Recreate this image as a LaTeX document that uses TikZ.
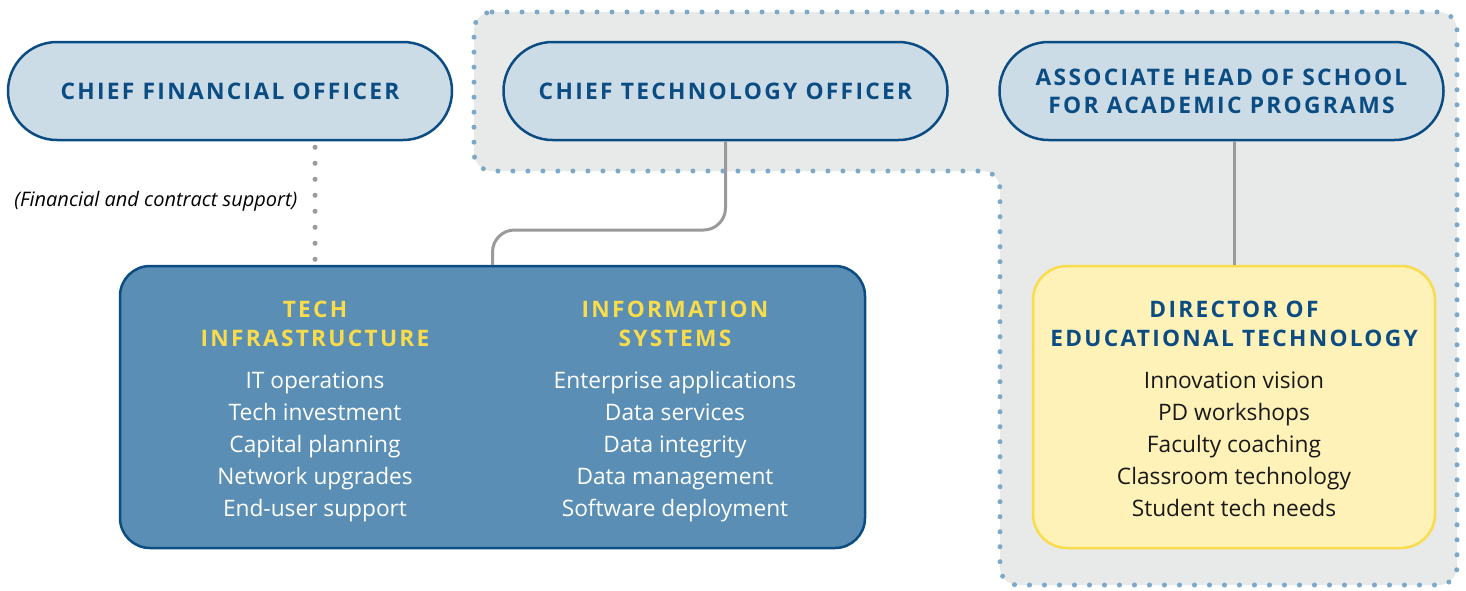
\documentclass[tikz,border=0pt]{standalone}
\usepackage{fontspec}
\setmainfont{Open Sans}
\newfontfamily\spaced[LetterSpace=10]{Open Sans}
\usetikzlibrary{positioning}

\definecolor{navy}{HTML}{0B4C83}
\definecolor{paleblue}{HTML}{CCDCE6}
\definecolor{midblue}{HTML}{5A8EB4}
\definecolor{gold}{HTML}{F9DC4C}
\definecolor{cream}{HTML}{FFF2B9}
\definecolor{zone}{HTML}{E8E9E9}
\definecolor{dotblue}{HTML}{7DA8C8}
\definecolor{linegray}{HTML}{9A9A9C}

\tikzset{
  officer/.style={draw=navy, line width=2.5pt, fill=paleblue,
    rounded corners=49pt, minimum width=444pt, minimum height=98pt,
    align=center, text=navy, font=\spaced\bfseries\fontsize{22.8}{28}\selectfont},
  unit/.style={draw=navy, line width=2.5pt, fill=midblue,
    rounded corners=30pt, minimum width=745pt, minimum height=282pt},
  edbox/.style={draw=gold, line width=2.5pt, fill=cream,
    rounded corners=34pt, minimum width=402pt, minimum height=282pt},
  head/.style={align=center, font=\spaced\bfseries\fontsize{22.7}{29}\selectfont},
  items/.style={align=center, font=\fontsize{22.7}{32}\selectfont},
  conn/.style={draw=linegray, line width=3pt, rounded corners=22pt},
  dotconn/.style={draw=linegray, line width=5pt, line cap=round,
    dash pattern=on 0pt off 16pt},
}

\begin{document}
\begin{tikzpicture}[x=1pt,y=-1pt]
\useasboundingbox (0,0) rectangle (1466,590);

% shaded zone
\draw[fill=zone, draw=dotblue, line width=5pt, line cap=round,
  dash pattern=on 0pt off 15pt, rounded corners=18pt]
  (474,12) -- (1457,12) -- (1457,585) -- (1000,585) -- (1000,171)
  -- (474,171) -- cycle;

% officers
\node[officer] (cfo) at (230,91) {CHIEF FINANCIAL OFFICER};
\node[officer] (cto) at (725.5,91) {CHIEF TECHNOLOGY OFFICER};
\node[officer] (ahs) at (1221.5,91) {ASSOCIATE HEAD OF SCHOOL\\FOR ACADEMIC PROGRAMS};

% units
\node[unit] (techbox) at (492.5,407) {};
\node[edbox] (edtech) at (1234,407) {};

\node[head, text=gold] (infrahead) at (315,323.5) {TECH\\INFRASTRUCTURE};
\node[items, text=white, below=18pt of infrahead] (infralist)
  {IT operations\\Tech investment\\Capital planning\\Network upgrades\\End-user support};
\node[head, text=gold] (syshead) at (675,323.5) {INFORMATION\\SYSTEMS};
\node[items, text=white, below=18pt of syshead] (syslist)
  {Enterprise applications\\Data services\\Data integrity\\Data management\\Software deployment};
\node[head, text=navy] (edhead) at (1234,323.5) {DIRECTOR OF\\EDUCATIONAL TECHNOLOGY};
\node[items, text=black!90, below=18pt of edhead] (edlist)
  {Innovation vision\\PD workshops\\Faculty coaching\\Classroom technology\\Student tech needs};

% connectors
\coordinate (ctojog) at (600,230);
\draw[conn] (cto.south) |- (ctojog) -| (techbox.north);
\draw[conn] (edtech.north |- ahs.south) -- (edtech.north);
\draw[dotconn] ([yshift=-6pt]cfo.south -| infrahead) -- ([yshift=2pt]techbox.north -| infrahead);
\node[anchor=east, font=\itshape\fontsize{20}{24}\selectfont] (cfonote) at (301,201)
  {(Financial and contract support)};
\end{tikzpicture}
\end{document}
